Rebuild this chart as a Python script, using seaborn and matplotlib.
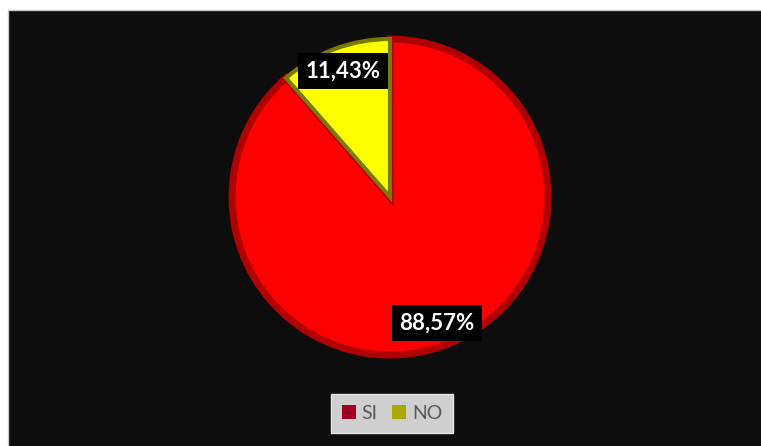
import matplotlib
matplotlib.use("Agg")
import matplotlib.pyplot as plt
import matplotlib.patches as mpatches
import seaborn as sns

# Survey answers (percent of respondents)
categories = ["SI", "NO"]
shares = [88.57, 11.43]
slice_colors = ["#FF0000", "#FFFF00"]
slice_edges = ["#B00000", "#7A7A00"]
legend_colors = ["#A0001C", "#A8A800"]

sns.set_theme(style="white")
plt.rcParams["font.family"] = ["Lato", "DejaVu Sans"]

W, H = 761, 446
fig = plt.figure(figsize=(W / 100, H / 100), dpi=100, facecolor="white")
ax = fig.add_axes([0, 0, 1, 1])
ax.set_xlim(0, W)
ax.set_ylim(0, H)
ax.set_aspect("equal")
ax.axis("off")

# dark chart area with thin grey rim
ax.add_patch(mpatches.Rectangle((8, -2), W, H - 10 + 2, facecolor="#0D0D0D",
                                edgecolor="#C8C8C8", linewidth=1.0, zorder=0))


def fmt(p):
    return f"{p:.2f}".replace(".", ",") + "%"


wedges, texts, autotexts = ax.pie(
    shares,
    labels=None,
    colors=slice_colors,
    explode=(0.035, 0),
    startangle=90,
    counterclock=False,
    center=(390, H - 197),
    radius=158,
    autopct=fmt,
    pctdistance=0.85,
    wedgeprops=dict(linewidth=3.5),
    textprops=dict(color="white", fontsize=16, fontweight="bold"),
    frame=True,
)
ax.set_xlim(0, W)
ax.set_ylim(0, H)
ax.axis("off")

for w, ec, lw in zip(wedges, slice_edges, (5.0, 3.0)):
    w.set_edgecolor(ec)
    w.set_linewidth(lw)
    w.set_zorder(2)

for t in autotexts:
    t.set_bbox(dict(boxstyle="square,pad=0.33", facecolor="black", edgecolor="none"))
    t.set_zorder(5)

handles = [mpatches.Patch(facecolor=c, edgecolor="none", label=lab)
           for c, lab in zip(legend_colors, categories)]
leg = fig.legend(
    handles=handles,
    loc="center",
    bbox_to_anchor=(392 / W, 1 - 413.5 / H),
    ncol=2,
    frameon=True,
    fancybox=False,
    facecolor="#CFCFCF",
    edgecolor="#E4E4E4",
    framealpha=1,
    fontsize=14,
    handlelength=0.72,
    handleheight=0.72,
    handletextpad=0.3,
    columnspacing=0.75,
    borderpad=0.55,
)
for t in leg.get_texts():
    t.set_color("#595959")

fig.savefig("out.png", dpi=100, facecolor="white")
